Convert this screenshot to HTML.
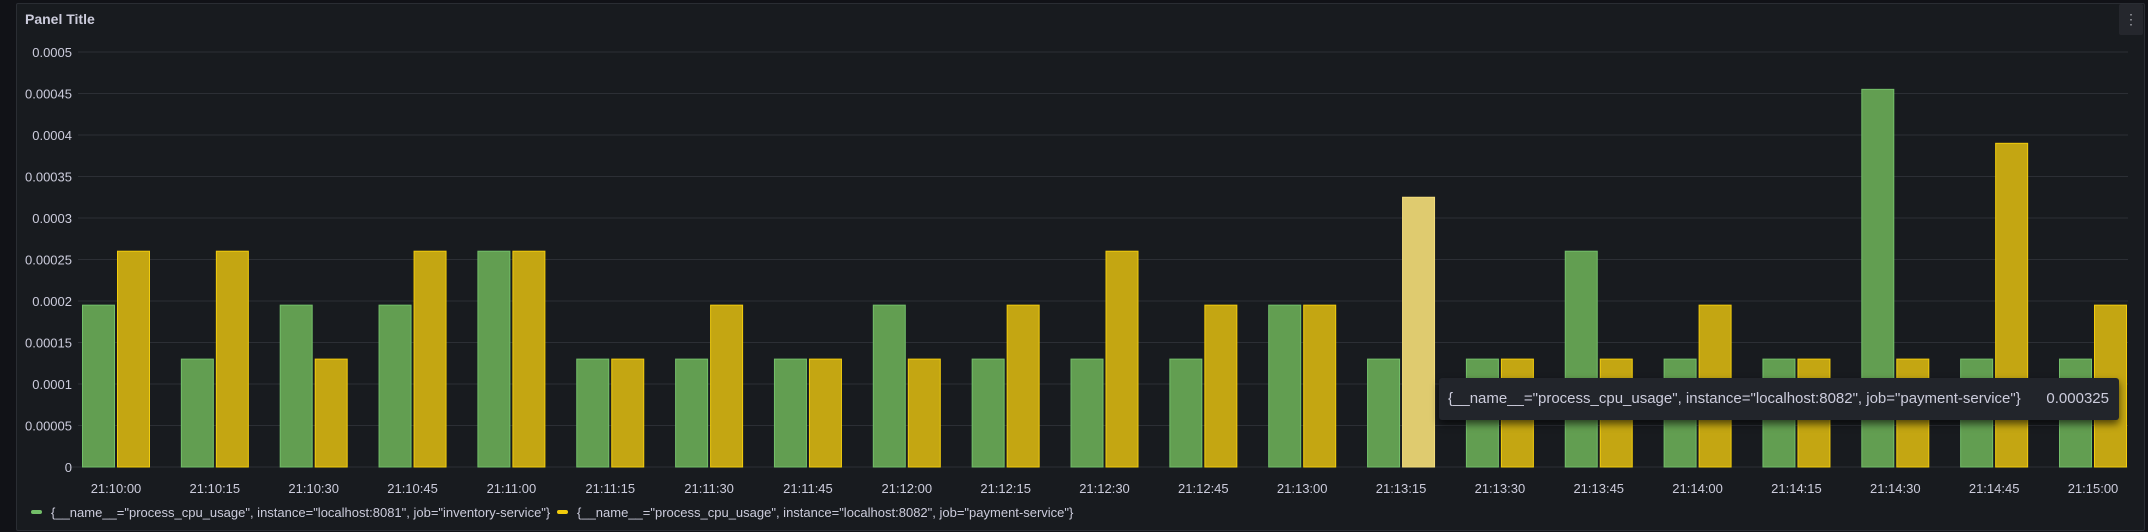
<!DOCTYPE html>
<html><head><meta charset="utf-8"><style>
html,body{margin:0;padding:0;width:2148px;height:532px;background:#111217;overflow:hidden;font-family:"Liberation Sans",sans-serif;}
#panel{position:absolute;left:16px;top:3px;width:2127px;height:526px;background:#181b1f;border:1px solid #2a2d33;border-radius:2px;}
#title{position:absolute;left:25px;top:11px;color:#ccccdc;font-size:14px;font-weight:bold;}
#menu{position:absolute;left:2119px;top:4px;width:24px;height:31px;background:#25272d;border-radius:2px;color:#9fa1a8;font-size:14px;text-align:center;line-height:31px;}
svg{position:absolute;left:0;top:0;}
#tooltip{position:absolute;left:1439px;top:378px;width:680px;height:42px;background:#22252b;border-radius:3px;box-shadow:0 4px 8px rgba(0,0,0,.6);color:#ccccdc;font-size:15px;line-height:42px;}
</style></head><body>
<div id="panel"></div>
<div id="title">Panel Title</div>
<div id="menu">⋮</div>
<svg id="chart" width="2148" height="532"></svg>
<div id="tooltip"><span style="position:absolute;left:9px;">{__name__="process_cpu_usage", instance="localhost:8082", job="payment-service"}</span><span style="position:absolute;right:10px;">0.000325</span></div>
<script>
const categories=["21:10:00","21:10:15","21:10:30","21:10:45","21:11:00","21:11:15","21:11:30","21:11:45","21:12:00","21:12:15","21:12:30","21:12:45","21:13:00","21:13:15","21:13:30","21:13:45","21:14:00","21:14:15","21:14:30","21:14:45","21:15:00"];
const inventoryValues=[0.000195,0.00013,0.000195,0.000195,0.00026,0.00013,0.00013,0.00013,0.000195,0.00013,0.00013,0.00013,0.000195,0.00013,0.00013,0.00026,0.00013,0.00013,0.000455,0.00013,0.00013];
const paymentValues=[0.00026,0.00026,0.00013,0.00026,0.00026,0.00013,0.000195,0.00013,0.00013,0.000195,0.00026,0.000195,0.000195,0.000325,0.00013,0.00013,0.000195,0.00013,0.00013,0.00039,0.000195];
const yTicks=[0,0.00005,0.0001,0.00015,0.0002,0.00025,0.0003,0.00035,0.0004,0.00045,0.0005];
const yTickLabels=["0","0.00005","0.0001","0.00015","0.0002","0.00025","0.0003","0.00035","0.0004","0.00045","0.0005"];
const highlightIndex=13;
const legendLabels=['{__name__="process_cpu_usage", instance="localhost:8081", job="inventory-service"}','{__name__="process_cpu_usage", instance="localhost:8082", job="payment-service"}'];

const NS="http://www.w3.org/2000/svg";
const svg=document.getElementById('chart');
const plotL=78,plotR=2128,y0=467,yTop=52,yMax=0.0005;
const yScale=v=>y0-(v/yMax)*(y0-yTop);
const xCenter=i=>116+i*(2093-116)/(categories.length-1);
function mk(tag,attrs){const e=document.createElementNS(NS,tag);for(const k in attrs)e.setAttribute(k,attrs[k]);svg.appendChild(e);return e;}

yTicks.forEach((t,i)=>{
  const y=yScale(t);
  const g=mk('line',{x1:plotL-10*(i===0),x2:plotR,y1:y,y2:y,stroke:'#2c2f35','stroke-width':1});
  
  
  const tx=mk('text',{x:72,y:y+5,'text-anchor':'end',fill:'#ccccdc','font-size':13,'font-family':'Liberation Sans, sans-serif'});
  tx.textContent=yTickLabels[i];
  
  
});

categories.forEach((c,i)=>{
  const cx=xCenter(i);
  const gy=yScale(inventoryValues[i]);
  const gb=mk('rect',{x:cx-33.5,y:gy,width:32,height:y0-gy,fill:'#629e51',stroke:'#73bf69','stroke-width':1});
  
  
  const py=yScale(paymentValues[i]);
  const hl=i===highlightIndex;
  const pb=mk('rect',{x:cx+1.5,y:py,width:32,height:y0-py,fill:hl?'#dfcb6f':'#c4a612',stroke:hl?'#f2dc7a':'#f2cc0c','stroke-width':1});
  
  
  const t=mk('text',{x:cx,y:493,'text-anchor':'middle',fill:'#ccccdc','font-size':13,'font-family':'Liberation Sans, sans-serif'});
  t.textContent=c;
  
  
});

const legendX=[31,557],legendColors=['#73bf69','#f2cc0c'];
legendLabels.forEach((l,i)=>{
  const m=mk('rect',{x:legendX[i],y:510,width:11,height:4,rx:2,fill:legendColors[i]});
  
  
  const t=mk('text',{x:legendX[i]+20,y:517,fill:'#ccccdc','font-size':13,'font-family':'Liberation Sans, sans-serif'});
  t.textContent=l;
  
  
});
</script>
</body></html>
